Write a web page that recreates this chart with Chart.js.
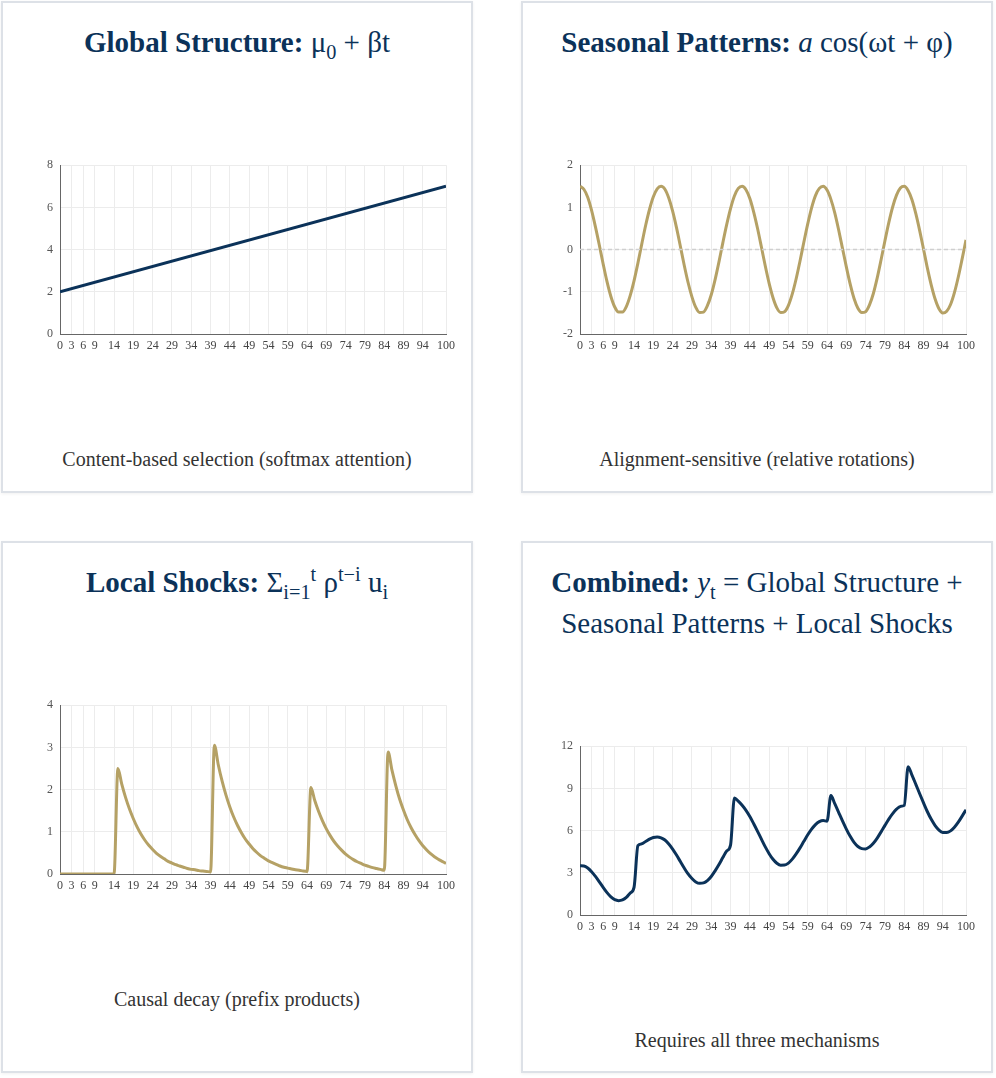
<!DOCTYPE html>
<html>
<head>
<meta charset="utf-8">
<script src="https://cdn.jsdelivr.net/npm/chart.js@4.4.1/dist/chart.umd.min.js"></script>
<style>
  html, body { margin: 0; padding: 0; background: #fff; }
  .grid {
    position: absolute; left: 1px; top: 1px;
    display: grid;
    grid-template-columns: 472px 472px;
    grid-template-rows: 492px 532px;
    column-gap: 48px; row-gap: 48px;
  }
  .card {
    box-sizing: border-box;
    border: 2px solid #dde1e7;
    box-shadow: 0 1px 3px rgba(0,0,0,0.06);
    background: #fff;
    display: flex; flex-direction: column;
  }
  .title {
    font-family: "Liberation Serif", "Times New Roman", serif;
    font-size: 29px; line-height: 41px; height: 41px;
    color: #0b3259; text-align: center;
    padding: 19px 20px 0 20px;
  }
  .title.two { height: 82px; }
  .title sub, .title sup { line-height: 0; font-size: 70%; }
  .chartbox { position: relative; margin: 88px 0 0 17px; width: 446px; height: 208px; }
  .caption {
    font-family: "Liberation Serif", "Times New Roman", serif;
    font-size: 20px; line-height: 26px; color: #333;
    text-align: center; margin-top: 87px;
  }
</style>
</head>
<body>
<div class="grid">
  <div class="card">
    <div class="title"><b>Global Structure:</b> μ<sub>0</sub> + βt</div>
    <div class="chartbox"><canvas id="c1"></canvas></div>
    <div class="caption">Content-based selection (softmax attention)</div>
  </div>
  <div class="card">
    <div class="title"><b>Seasonal Patterns:</b> <i>a</i> cos(ωt + φ)</div>
    <div class="chartbox"><canvas id="c2"></canvas></div>
    <div class="caption">Alignment-sensitive (relative rotations)</div>
  </div>
  <div class="card">
    <div class="title"><b>Local Shocks:</b> Σ<sub>i=1</sub><sup>t</sup> ρ<sup>t−i</sup> u<sub>i</sub></div>
    <div class="chartbox"><canvas id="c3"></canvas></div>
    <div class="caption">Causal decay (prefix products)</div>
  </div>
  <div class="card">
    <div class="title two"><b>Combined:</b> <i>y</i><sub>t</sub> = Global Structure + Seasonal Patterns + Local Shocks</div>
    <div class="chartbox"><canvas id="c4"></canvas></div>
    <div class="caption">Requires all three mechanisms</div>
  </div>
</div>
<script>
// time steps 0..100
const steps = [0,1,2,3,4,5,6,7,8,9,10,11,12,13,14,15,16,17,18,19,20,21,22,23,24,25,26,27,28,29,30,
  31,32,33,34,35,36,37,38,39,40,41,42,43,44,45,46,47,48,49,50,51,52,53,54,55,56,57,58,59,60,
  61,62,63,64,65,66,67,68,69,70,71,72,73,74,75,76,77,78,79,80,81,82,83,84,85,86,87,88,89,90,
  91,92,93,94,95,96,97,98,99,100];

// x tick labels as shown on the axis
const xTicks = [0,3,6,9,14,19,24,29,34,39,44,49,54,59,64,69,74,79,84,89,94,100];

// global structure: straight line, endpoints
const globalSteps = [0, 100];
const globalValues = [2, 7];

// seasonal pattern
const seasonalValues = [1.50,1.43,1.24,0.93,0.54,0.11,-0.34,-0.76,-1.11,-1.36,-1.48,-1.48,-1.35,-1.09,-0.74,-0.32,
  0.13,0.57,0.95,1.25,1.44,1.50,1.43,1.22,0.91,0.52,0.08,-0.37,-0.78,-1.12,-1.37,-1.49,-1.48,-1.33,-1.07,-0.71,
  -0.29,0.16,0.59,0.97,1.27,1.45,1.50,1.42,1.21,0.89,0.50,0.06,-0.39,-0.80,-1.14,-1.38,-1.49,-1.47,-1.32,-1.05,
  -0.69,-0.27,0.18,0.61,0.99,1.28,1.45,1.50,1.41,1.19,0.87,0.47,0.03,-0.41,-0.82,-1.16,-1.39,-1.49,-1.47,-1.31,
  -1.04,-0.67,-0.24,0.21,0.64,1.01,1.29,1.46,1.50,1.40,1.18,0.85,0.45,0.01,-0.44,-0.84,-1.17,-1.40,-1.50,-1.46,
  -1.30,-1.02,-0.65,-0.22,0.23];

// local shocks
const shockValues = [0,0,0,0,0,0,0,0,0,0,0,0,0,0,0,2.50,2.13,1.81,1.54,1.31,1.11,0.94,0.80,0.68,0.58,0.49,
  0.42,0.36,0.30,0.26,0.22,0.19,0.16,0.13,0.11,0.10,0.08,0.07,0.06,0.05,3.05,2.59,2.20,1.87,1.59,1.35,1.15,0.98,
  0.83,0.71,0.60,0.51,0.43,0.37,0.31,0.27,0.23,0.19,0.16,0.14,0.12,0.10,0.09,0.07,0.06,2.05,1.74,1.48,1.26,1.07,
  0.91,0.77,0.66,0.56,0.47,0.40,0.34,0.29,0.25,0.21,0.18,0.15,0.13,0.11,0.09,2.89,2.46,2.09,1.77,1.51,1.28,1.09,
  0.93,0.79,0.67,0.57,0.48,0.41,0.35,0.30,0.25];

// combined series
const combinedValues = [3.50,3.48,3.34,3.08,2.74,2.36,1.96,1.59,1.29,1.09,1.02,1.07,1.25,1.56,1.96,4.93,5.06,
  5.23,5.39,5.51,5.55,5.49,5.33,5.05,4.69,4.26,3.80,3.34,2.92,2.59,2.35,2.25,2.28,2.45,2.74,3.14,3.59,4.08,4.55,
  4.97,8.32,8.09,7.80,7.44,7.00,6.49,5.95,5.39,4.84,4.36,3.96,3.68,3.54,3.55,3.69,3.97,4.34,4.77,5.24,5.70,6.11,
  6.43,6.64,6.72,6.67,8.49,7.91,7.30,6.69,6.11,5.59,5.16,4.87,4.72,4.70,4.84,5.10,5.47,5.91,6.37,6.82,7.21,7.52,
  7.72,7.79,10.54,9.94,9.29,8.62,7.97,7.34,6.80,6.36,6.04,5.87,5.86,5.98,6.24,6.60,7.03,7.48];

const zeroSteps = [0, 100];
const zeroValues = [0, 0];

const NAVY = '#0b3259';
const GOLD = '#b5a165';
const SERIF = "'Liberation Serif', 'Times New Roman', serif";

function toPoints(xs, ys) {
  return xs.map((x, i) => ({ x: x, y: ys[i] }));
}

function makeChart(id, datasets, yMin, yMax, yStep) {
  return new Chart(document.getElementById(id), {
    type: 'line',
    data: { datasets: datasets },
    options: {
      responsive: true,
      maintainAspectRatio: false,
      animation: false,
      layout: { padding: { top: 10, right: 20, left: 0, bottom: 0 } },
      plugins: { legend: { display: false }, tooltip: { enabled: false } },
      elements: { point: { radius: 0 } },
      scales: {
        x: {
          type: 'linear', min: 0, max: 100,
          afterBuildTicks: (scale) => { scale.ticks = xTicks.map(v => ({ value: v })); },
          afterFit: (scale) => { scale.height = 25; },
          grid: { color: '#ececec', drawTicks: false },
          border: { color: '#666', width: 1 },
          ticks: { autoSkip: false, maxRotation: 0, padding: 5, color: '#444',
                   font: { family: SERIF, size: 12 } }
        },
        y: {
          min: yMin, max: yMax,
          afterFit: (scale) => { scale.width = 40; },
          grid: { color: '#ececec', drawTicks: false },
          border: { color: '#666', width: 1 },
          ticks: { stepSize: yStep, padding: 7, color: '#555',
                   font: { family: SERIF, size: 12 } }
        }
      }
    }
  });
}

function lineSet(xs, ys, color) {
  return {
    data: toPoints(xs, ys),
    borderColor: color,
    borderWidth: 3,
    cubicInterpolationMode: 'monotone',
    fill: false
  };
}

makeChart('c1', [lineSet(globalSteps, globalValues, NAVY)], 0, 8, 2);
makeChart('c2', [
  { data: toPoints(zeroSteps, zeroValues), borderColor: '#cfcfcf', borderWidth: 1.5, borderDash: [4, 3], fill: false },
  lineSet(steps, seasonalValues, GOLD)
], -2, 2, 1);
makeChart('c3', [lineSet(steps, shockValues, GOLD)], 0, 4, 1);
makeChart('c4', [lineSet(steps, combinedValues, NAVY)], 0, 12, 3);
</script>
</body>
</html>
